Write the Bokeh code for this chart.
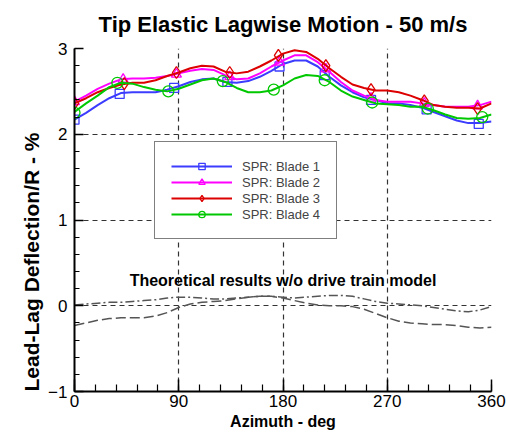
from bokeh.plotting import figure
from bokeh.models import Range1d, FixedTicker, Label, Legend, LegendItem, Title
from bokeh.embed import file_html
from bokeh.resources import INLINE
import numpy as np

# ---------------- data ----------------
azimuth = list(range(0, 361, 10))

blade1 = [2.17, 2.25, 2.34, 2.42, 2.48, 2.49, 2.49, 2.49, 2.52, 2.56,
          2.61, 2.64, 2.65, 2.61, 2.60, 2.62, 2.67, 2.74, 2.82, 2.86,
          2.86, 2.79, 2.67, 2.57, 2.49, 2.43, 2.40, 2.36, 2.36, 2.34,
          2.31, 2.26, 2.21, 2.16, 2.13, 2.13, 2.15]
blade2 = [2.38, 2.45, 2.53, 2.59, 2.64, 2.65, 2.65, 2.66, 2.68, 2.71,
          2.74, 2.76, 2.75, 2.69, 2.64, 2.65, 2.71, 2.79, 2.86, 2.92,
          2.92, 2.84, 2.73, 2.61, 2.51, 2.45, 2.40, 2.38, 2.38, 2.38,
          2.36, 2.34, 2.32, 2.32, 2.32, 2.34, 2.38]
blade3 = [2.36, 2.42, 2.49, 2.54, 2.58, 2.60, 2.60, 2.63, 2.68, 2.72,
          2.77, 2.80, 2.79, 2.73, 2.71, 2.73, 2.79, 2.86, 2.94, 2.98,
          2.96, 2.88, 2.77, 2.67, 2.58, 2.54, 2.51, 2.51, 2.49, 2.45,
          2.40, 2.34, 2.32, 2.31, 2.31, 2.30, 2.36]
blade4 = [2.26, 2.36, 2.45, 2.55, 2.60, 2.59, 2.55, 2.52, 2.50, 2.53,
          2.58, 2.63, 2.65, 2.61, 2.54, 2.49, 2.49, 2.51, 2.57, 2.65,
          2.69, 2.68, 2.61, 2.51, 2.44, 2.40, 2.36, 2.35, 2.34, 2.32,
          2.32, 2.28, 2.23, 2.19, 2.18, 2.19, 2.23]

# marker points
m1_az = [0, 39, 86, 132, 177, 216, 256, 304, 349]
m1_val = [2.17, 2.47, 2.54, 2.61, 2.79, 2.69, 2.40, 2.29, 2.12]
m2_az = [0, 42, 88, 134, 177, 217, 256, 302, 348]
m2_val = [2.38, 2.64, 2.70, 2.67, 2.84, 2.76, 2.42, 2.36, 2.33]
m3_az = [0, 43, 88, 134, 176, 217, 256, 302, 348]
m3_val = [2.36, 2.59, 2.72, 2.72, 2.92, 2.80, 2.52, 2.39, 2.30]
m4_az = [0, 37, 81, 128, 172, 216, 257, 305, 352]
m4_val = [2.25, 2.60, 2.50, 2.62, 2.52, 2.63, 2.37, 2.30, 2.20]

# theoretical results w/o drive train model
theory_dashdot = [0.01, 0.02, 0.03, 0.04, 0.04, 0.05, 0.06, 0.07, 0.09, 0.10,
                  0.10, 0.09, 0.08, 0.08, 0.09, 0.10, 0.11, 0.11, 0.10, 0.09,
                  0.10, 0.11, 0.12, 0.12, 0.11, 0.08, 0.05, 0.03, 0.02, 0.01,
                  0.00, -0.02, -0.04, -0.06, -0.07, -0.05, -0.01]
theory_dashed = [-0.23, -0.20, -0.17, -0.15, -0.14, -0.14, -0.14, -0.12, -0.08, -0.02,
                 0.02, 0.04, 0.05, 0.06, 0.08, 0.10, 0.11, 0.11, 0.09, 0.06,
                 0.03, 0.01, 0.00, 0.00, -0.01, -0.04, -0.09, -0.14, -0.18, -0.20,
                 -0.21, -0.22, -0.22, -0.23, -0.25, -0.26, -0.25]

x_ticks = [0, 90, 180, 270, 360]
y_ticks = [-1, 0, 1, 2, 3]
labels = ["SPR: Blade 1", "SPR: Blade 2", "SPR: Blade 3", "SPR: Blade 4"]

# ---------------- figure ----------------
FONT = "Liberation Sans"
p = figure(width=506, height=434, x_range=Range1d(0, 360), y_range=Range1d(-1, 3),
           output_backend="svg", toolbar_location=None, title=None,
           min_border_left=74, min_border_right=15, min_border_top=48, min_border_bottom=43)
p.outline_line_color = None
p.background_fill_color = "white"

# grid
p.xgrid.ticker = FixedTicker(ticks=[90, 180, 270])
p.ygrid.ticker = FixedTicker(ticks=[0, 1, 2, 3])
for g in (p.xgrid, p.ygrid):
    g.grid_line_color = "#333333"
    g.grid_line_dash = "5 4"
    g.grid_line_width = 1.2

# axes
p.xaxis.ticker = FixedTicker(ticks=x_ticks, minor_ticks=list(range(0, 361, 18)))
p.yaxis.ticker = FixedTicker(ticks=y_ticks, minor_ticks=[round(v, 1) for v in np.arange(-1, 3.01, 0.2)])
for ax in (p.xaxis, p.yaxis):
    ax.axis_line_width = 2
    ax.axis_line_color = "black"
    ax.major_tick_out = 0
    ax.minor_tick_out = 0
    ax.major_tick_line_width = 1.5
    ax.minor_tick_line_width = 1.2
    ax.major_label_text_font = FONT
    ax.major_label_text_font_size = "17px"
    ax.major_label_text_color = "black"
p.xaxis.major_tick_in = 12
p.xaxis.minor_tick_in = 7
p.yaxis.major_tick_in = 9
p.yaxis.minor_tick_in = 5
p.xaxis.major_label_standoff = 3
p.yaxis.major_label_standoff = 7
p.xaxis.axis_label = "Azimuth - deg"
p.xaxis.axis_label_text_font = FONT
p.xaxis.axis_label_text_font_style = "bold"
p.xaxis.axis_label_text_font_size = "16px"
p.xaxis.axis_label_text_color = "black"
p.xaxis.axis_label_standoff = 3

# theoretical lines
p.line(azimuth, theory_dashdot, line_color="#555555", line_width=1.5, line_dash="9 3 2 3")
p.line(azimuth, theory_dashed, line_color="#555555", line_width=1.5, line_dash="10 4")

colors = ["#3c3cff", "#ff00ff", "#dd0000", "#00c800"]
markers = ["square", "triangle", "diamond", "circle"]
sizes = [9, 10, 12, 11]
series = [blade1, blade2, blade3, blade4]
maz = [m1_az, m2_az, m3_az, m4_az]
mval = [m1_val, m2_val, m3_val, m4_val]

items = []
for lab, c, mk, sz, ys, ma, mv in zip(labels, colors, markers, sizes, series, maz, mval):
    r1 = p.line(azimuth, ys, line_color=c, line_width=2)
    r2 = p.scatter(ma, mv, marker=mk, size=sz, line_color=c, fill_color=None, line_width=1.3)
    items.append(LegendItem(label=lab, renderers=[r1, r2]))

legend = Legend(items=items, location=(80, 152), padding=16, spacing=0,
                label_height=16, glyph_height=16, glyph_width=61, label_standoff=10,
                label_text_font=FONT, label_text_font_size="13px",
                border_line_color="black", border_line_width=1.5,
                background_fill_color="white", background_fill_alpha=1.0,
                margin=0)
p.add_layout(legend, "center")

# titles
p.add_layout(Title(text="Tip Elastic Lagwise Motion - 50 m/s", align="center",
                   vertical_align="top",
                   text_font=FONT, text_font_style="bold", text_font_size="22px",
                   text_color="black", standoff=20), "above")
p.add_layout(Title(text="Lead-Lag Deflection/R - %", align="left", offset=0,
                   text_font=FONT, text_font_style="bold", text_font_size="21px",
                   text_color="black", standoff=6), "left")

p.add_layout(Label(x=180, y=0.29, text="Theoretical results w/o drive train model",
                   text_font=FONT, text_font_style="bold", text_font_size="16px",
                   text_color="black", text_align="center", text_baseline="middle"))

open("out.html", "w").write(file_html(p, INLINE))
